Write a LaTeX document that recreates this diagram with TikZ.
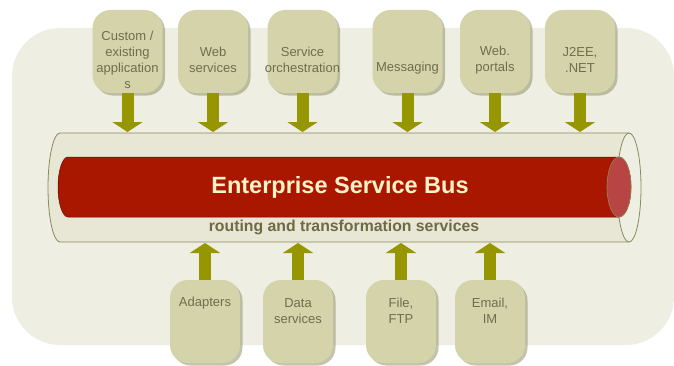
\documentclass[tikz,border=0pt]{standalone}
\usepackage{fontspec}
\setmainfont{Liberation Sans}
\usetikzlibrary{arrows.meta,shadows}
\definecolor{bgc}{HTML}{EEEEE3}
\definecolor{tubec}{HTML}{E8E6D4}
\definecolor{tubeline}{HTML}{8A8A5C}
\definecolor{busred}{HTML}{AA1700}
\definecolor{endred}{HTML}{B84444}
\definecolor{boxc}{HTML}{D4D3AA}
\definecolor{boxtext}{HTML}{6E6E4E}
\definecolor{arrc}{HTML}{969600}
\definecolor{titlec}{HTML}{FDF3C8}
\definecolor{routec}{HTML}{6B6B45}
\tikzset{
  sbox/.style={draw=none, fill=boxc, rounded corners=18pt, minimum width=70pt, minimum height=83pt,
    drop shadow={shadow xshift=2.5pt, shadow yshift=-2.5pt, fill=tubeline, opacity=0.5}},
  btext/.style={text=boxtext, align=center, font=\fontsize{13}{16}\selectfont, inner sep=0pt},
  fatarrow/.style={draw=arrc, line width=12pt, -{Triangle[width=30pt,length=10pt]}},
}
\begin{document}
\begin{tikzpicture}[x=1pt,y=1pt]
\useasboundingbox (0,0) rectangle (674,365);
\clip (0,0) rectangle (674,365);
% background
\fill[bgc, rounded corners=48pt] (12,20) rectangle (674,337);
% outer tube
\fill[tubec] (629,232) -- (60,232) arc[start angle=90, end angle=270, x radius=12, y radius=54.5]
  -- (629,123) arc[start angle=-90, end angle=90, x radius=12, y radius=54.5] -- cycle;
\draw[tubeline, line width=0.8pt] (629,232) -- (60,232) arc[start angle=90, end angle=270, x radius=12, y radius=54.5] -- (629,123);
\filldraw[fill=bgc, draw=tubeline, line width=0.8pt] (629,177.5) ellipse[x radius=12, y radius=54.5];
\coordinate (bustop) at (340,233);
\coordinate (busbot) at (340,122);
% red inner tube
\filldraw[fill=busred, draw=busred!60!black, line width=0.5pt] (619,208) -- (68,208) arc[start angle=90, end angle=270, x radius=10, y radius=30]
  -- (619,148) arc[start angle=-90, end angle=90, x radius=12, y radius=30] -- cycle;
\filldraw[fill=endred, draw=tubeline, line width=0.6pt] (619,178) ellipse[x radius=12, y radius=30];
\node[text=titlec, font=\fontsize{23.5}{26}\selectfont\bfseries] (title) at (340,178) {Enterprise Service Bus};
\node[text=routec, font=\fontsize{15.8}{18}\selectfont\bfseries] (route) at (344,138) {routing and transformation services};
% top boxes
\node[sbox] (t1) at (127.5,313.5) {};
\node[sbox] (t2) at (213,313.5) {};
\node[sbox] (t3) at (302.5,313.5) {};
\node[sbox] (t4) at (407.5,313.5) {};
\node[sbox] (t5) at (495,313.5) {};
\node[sbox] (t6) at (580,313.5) {};
\node[btext] (l1) at (127.5,305) {Custom /\\existing\\application\\s};
\node[btext] (l2) at (213,305) {Web\\services};
\node[btext] (l3) at (302.5,305) {Service\\orchestration};
\node[btext] (l4) at (407.5,297) {Messaging};
\node[btext] (l5) at (495,305) {Web.\\portals};
\node[btext] (l6) at (580,305) {J2EE,\\.NET};
% bottom boxes
\node[sbox] (b1) at (205,43.5) {};
\node[sbox] (b2) at (298,43.5) {};
\node[sbox] (b3) at (401,43.5) {};
\node[sbox] (b4) at (490,43.5) {};
\node[btext] (m1) at (205,62) {Adapters};
\node[btext] (m2) at (298,54) {Data\\services};
\node[btext] (m3) at (401,54) {File,\\FTP};
\node[btext] (m4) at (490,54) {Email,\\IM};
% arrows
\foreach \n in {t1,t2,t3,t4,t5,t6} \draw[fatarrow] (\n.south) -- (\n.south |- bustop);
\foreach \n in {b1,b2,b3,b4} \draw[fatarrow] (\n.north) -- (\n.north |- busbot);
\end{tikzpicture}
\end{document}
